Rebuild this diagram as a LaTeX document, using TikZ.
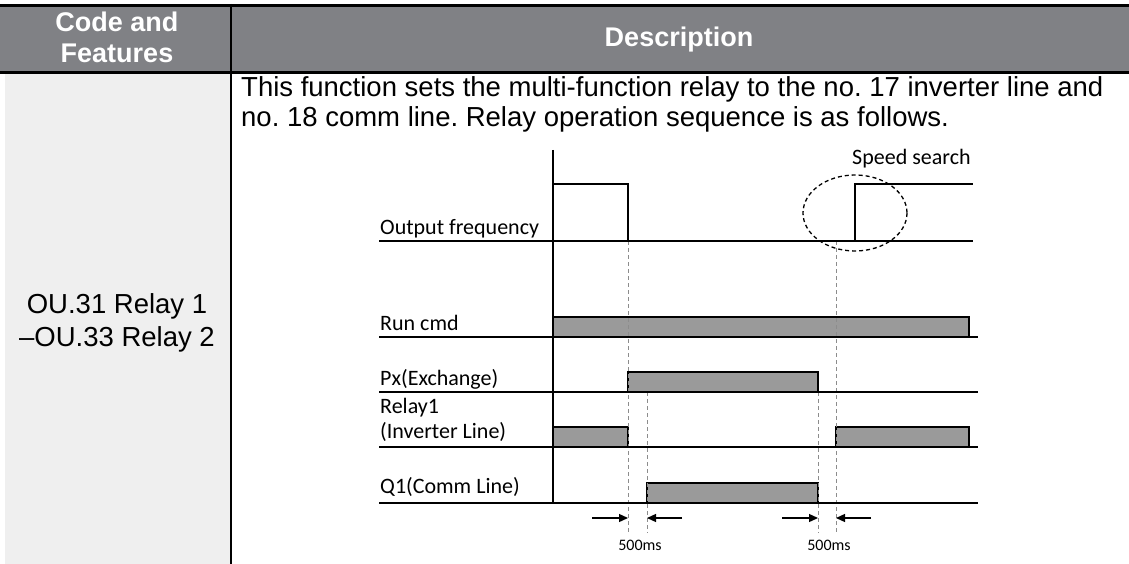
\documentclass[tikz,border=0pt]{standalone}
\usepackage{fontspec}
\setmainfont{Liberation Sans}
\newfontfamily\diagfont{Carlito}
\usepackage{xcolor}
\usetikzlibrary{arrows.meta, calc}
\definecolor{headgray}{RGB}{128,129,133}
\definecolor{colgray}{RGB}{239,239,239}
\definecolor{barfill}{RGB}{154,154,154}
\definecolor{guidegray}{RGB}{140,140,140}
\frenchspacing

\begin{document}
\begin{tikzpicture}[x=1pt, y=-1pt, >={Stealth[length=9pt, width=8pt, inset=0pt]},
    headtext/.style={anchor=base, inner sep=0pt, text=white, font=\bfseries\fontsize{27}{31}\selectfont},
    bodytext/.style={inner sep=0pt, font=\fontsize{27.5}{31}\selectfont},
    siglabel/.style={anchor=base west, inner sep=0pt, font=\diagfont\fontsize{22}{26}\selectfont},
    rowline/.style={line width=2pt},
    pulse/.style={line width=1.3pt},
    bar/.style={draw=black, line width=1.3pt, fill=barfill},
    guide/.style={guidegray, line width=1pt, dash pattern=on 4pt off 3pt}]
    \useasboundingbox (0,0) rectangle (1129,564);
    % Table frame
    \fill[headgray] (0,5) rectangle (1129,72);
    \fill[colgray] (5,73) rectangle (231,564);
    \draw[line width=2.8pt] (0,5.3) -- (1129,5.3);
    \draw[line width=3pt] (0,72.5) -- (1129,72.5);
    \draw[line width=2.5pt] (231,4) -- (231,564);
    % Header
    \node[headtext] (code) at (117,32) {Code and};
    \node[headtext] (feat) at (117,63) {Features};
    \node[headtext] (desc) at (679,47) {Description};
    % Cells
    \node[bodytext, anchor=base] (par1) at (117,313) {OU.31 Relay 1};
    \node[bodytext, anchor=base] (par2) at (117,346) {--OU.33 Relay 2};
    \node[bodytext, anchor=base west] (txt1) at (241,97) {This function sets the multi-function relay to the no. 17 inverter line and};
    \node[bodytext, anchor=base west] (txt2) at (241,127) {no. 18 comm line. Relay operation sequence is as follows.};
    % Signal names
    \node[siglabel] (lfreq) at (380,234) {Output frequency};
    \node[siglabel] (lrun) at (380,330) {Run cmd};
    \node[siglabel] (lpx) at (380,385) {Px(Exchange)};
    \node[siglabel] (lrel) at (380,413) {Relay1};
    \node[siglabel] (linv) at (380,438) {(Inverter Line)};
    \node[siglabel] (lq) at (380,493) {Q1(Comm Line)};
    % Bars
    \draw[bar] (553,317) rectangle (969,337);
    \draw[bar] (628,372) rectangle (818,392);
    \draw[bar] (553,427) rectangle (628,447);
    \draw[bar] (836,427) rectangle (969,447);
    \draw[bar] (647,483) rectangle (818,503);
    % Frequency pulses
    \draw[pulse] (553,184) -- (628,184) -- (628,241);
    \draw[pulse] (855,241) -- (855,184) -- (973,184);
    % Dashed guides
    \draw[guide] (628,241) -- (628,533);
    \draw[guide] (836,241) -- (836,533);
    \draw[guide] (647,392) -- (647,533);
    \draw[guide] (818,392) -- (818,533);
    % Row lines and axis
    \draw[rowline] (379,241) -- (973,241);
    \foreach \y in {337,392,447,503}
        \draw[rowline] (379,\y) -- (978,\y);
    \draw[rowline] (553,150) -- (553,503);
    % Speed search
    \draw[line width=1.3pt, dash pattern=on 4pt off 3pt] (855,213) ellipse (52 and 38);
    \node[siglabel] (speed) at (852,165) {Speed search};
    % 500ms gaps
    \coordinate (a1) at (592,518);
    \coordinate (a2) at (628,518);
    \coordinate (b1) at (682,518);
    \coordinate (b2) at (647,518);
    \coordinate (c1) at (782,518);
    \coordinate (c2) at (818,518);
    \coordinate (d1) at (871,518);
    \coordinate (d2) at (836,518);
    \draw[->, line width=1.3pt] (a1) -- (a2);
    \draw[->, line width=1.3pt] (b1) -- (b2);
    \draw[->, line width=1.3pt] (c1) -- (c2);
    \draw[->, line width=1.3pt] (d1) -- (d2);
    \node[siglabel, anchor=base, font=\diagfont\fontsize{16}{19}\selectfont] (gap1) at (640,550) {500ms};
    \node[siglabel, anchor=base, font=\diagfont\fontsize{16}{19}\selectfont] (gap2) at (829,550) {500ms};
\end{tikzpicture}
\end{document}
